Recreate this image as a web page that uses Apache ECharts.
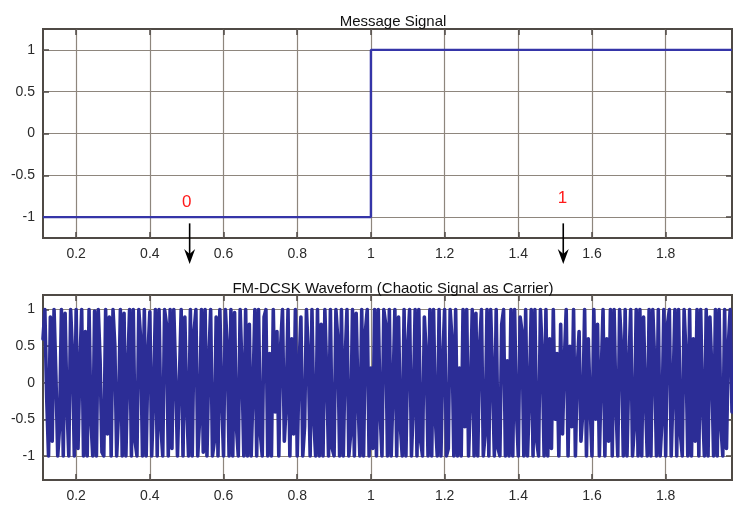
<!DOCTYPE html>
<html>
<head>
<meta charset="utf-8">
<script src="https://cdn.jsdelivr.net/npm/echarts@6/dist/echarts.min.js"></script>
<style>
  html, body { margin: 0; padding: 0; background: #fff; }
  #chart { width: 733px; height: 507px; }
</style>
</head>
<body>
<div id="chart"></div>
<script>
// Axis tick positions shared by both panels
const xTicks = [0.2, 0.4, 0.6, 0.8, 1, 1.2, 1.4, 1.6, 1.8];
const yTicks = [-1, -0.5, 0, 0.5, 1];

// Message bits: 0 (level -1) then 1 (level +1), switching at t = 1
const messageT = [0.11, 1.0, 1.0, 1.98];
const messageV = [-1, -1, 1, 1];

// FM-DCSK waveform samples, uniform time step starting at waveT0
const waveT0 = 0.11;
const waveDt = 0.005;
const waveV = [
  0.6, 1, -0.2, -1, 0.9, -0.8, 1, 0.1, -1, -0.6, 1, -1, 0.95, -0.3, -1, 1, 0.4, -1, 1, -0.9, 0.2, 1, -1, 0.7, -1,
  1, -0.5, -1, 0.98, -1, 1, 0.3, -0.95, -1, 1, -0.7, 0.9, -1, 1, 0.5, -1, -0.4, 1, -1, 0.95, -1, 0.2, 1, -1, 1,
  -0.8, -1, 1, 0.6, -1, 1, -1, 0.4, 0.97, -1, -0.2, 1, -1, 1, -0.6, -1, 1, 0.8, -1, 1, -0.9, 1, 0.1, -1, -0.98,
  1, -1, 0.9, -0.3, -1, 1, -1, 0.7, 1, -1, -0.5, 1, -0.95, 1, -1, 0.3, 1, -1, -0.8, 0.9, -1, 1, -0.2, -1, 1,
  0.5, -1, 1, -1, 0.96, -0.6, -1, 1, 0.2, -1, 1, -1, 0.8, -1, -0.1, 1, -1, 1, -0.7, -1, 0.9, 1, -1, 0.4, -1,
  1, -0.4, 0.7, -1, 0.5, 1, -0.8, -0.3, 1, -1, 0.6, -0.7, 1, -1, 0.2, 0.9, -1, -0.6, 1, 0.4, -1, 1, -0.5, -1, 1,
  -1, 0.8, -1, 1, 0.1, -1, 1, -0.9, -1, 1, 0.6, -1, 1, -1, 0.3, 1, -1, -0.7, 1, -1, 0.95, -0.2, -1, 1, -1,
  0.7, 1, -1, 0.2, -0.9, 1, -1, 1, -0.4, -1, 1, 0.8, -1, 1, -1, -0.1, 1, -1, 0.9, -0.6, -1, 1, -1, 0.5, 1,
  -1, -0.3, 1, -1, 1, -0.8, -1, 0.9, 0.4, -1, 1, -1, 1, -0.5, -1, 1, -1, 0.3, 1, -1, -0.9, 1, 0.6, -1, 1,
  -1, 0.2, -1, 1, -0.6, 1, -1, -0.2, 1, -1, 0.95, -1, 0.5, 1, -1, -0.7, 1, -1, 1, 0.1, -1, 1, -0.9, -1, 0.8,
  1, -1, 0.3, -1, 1, -1, 1, -0.4, -1, 0.9, 0.7, -1, 1, -1, -0.2, 1, -1, 1, -0.8, -1, 1, 0.4, -1, 1, -1,
  0.6, -0.9, 1, -0.5, 0.4, -1, 0.8, -0.7, 0.3, 1, -1, 0.5, -0.6, 1, -1, 0.2, 0.7, -0.8, -0.4, 1, -1, 0.6, -0.3, -1, 1,
  -0.5, 0.8, -1, 0.1, 1, -1, 0.6, -0.8, 1, -1, 1, -0.3, -1, 1, 0.5, -1, 1, -1, 0.2, 1, -1, -0.6, 1, -1, 1,
  -1, 0.9, -0.2, -1, 1, -1, 1, 0.3, -1, 1, -1, -0.5, 1, -1, 0.8, 1, -1, -0.1, 1, -1, 1, -0.7, -1, 1, 0.4,
  -1, 1, -1, 0.6, -0.8, 1, -1, 1, -0.3, -1, 1, -1, 0.9, 0.2, -1, 1, -1, 1, -0.6, -1, 1, -0.9, 0.5, 1, -0.4
];

// Bit annotations on the message panel
const bitText = ['0', '1'];
const bitTextX = [0.50, 1.52];
const bitTextY = [-0.82, -0.78];
const bitArrowX = [0.508, 1.522];
const bitArrowTop = -1.075;
const bitArrowTip = -1.56;

const FONT = '"Liberation Sans", Arial, Helvetica, sans-serif';
const GRID_COLOR = '#8e867d';
const AXIS_COLOR = '#4f4a45';
const LABEL_COLOR = '#2a2a2a';
const WAVE_COLOR = '#2c2d96';

const chart = echarts.init(document.getElementById('chart'), null, { renderer: 'canvas' });

const messageData = messageT.map((t, i) => [t, messageV[i]]);
const waveData = waveV.map((v, i) => [+(waveT0 + i * waveDt).toFixed(4), v]);

function xAxisFor(gridIndex, min, max) {
  return [
    {
      gridIndex, type: 'value', min, max, position: 'bottom',
      axisLine: { show: false, onZero: false },
      axisTick: { show: true, inside: true, length: 6, customValues: xTicks, lineStyle: { color: AXIS_COLOR, width: 1.5 } },
      axisLabel: { show: true, customValues: xTicks, margin: 9, color: LABEL_COLOR, fontSize: 14, fontFamily: FONT,
                   formatter: v => String(v) },
      splitLine: { show: true, lineStyle: { color: GRID_COLOR, width: 1.2 } }
    },
    {
      gridIndex, type: 'value', min, max, position: 'top',
      axisLine: { show: false, onZero: false },
      axisTick: { show: true, inside: true, length: 6, customValues: xTicks, lineStyle: { color: AXIS_COLOR, width: 1.5 } },
      axisLabel: { show: false },
      splitLine: { show: false }
    }
  ];
}

function yAxisFor(gridIndex, min, max) {
  return [
    {
      gridIndex, type: 'value', min, max, position: 'left',
      axisLine: { show: false, onZero: false },
      axisTick: { show: true, inside: true, length: 6, customValues: yTicks, lineStyle: { color: AXIS_COLOR, width: 1.5 } },
      axisLabel: { show: true, customValues: yTicks, margin: 8, color: LABEL_COLOR, fontSize: 14, fontFamily: FONT,
                   formatter: v => String(v) },
      splitLine: { show: true, lineStyle: { color: GRID_COLOR, width: 1.2 } }
    },
    {
      gridIndex, type: 'value', min, max, position: 'right',
      axisLine: { show: false, onZero: false },
      axisTick: { show: true, inside: true, length: 6, customValues: yTicks, lineStyle: { color: AXIS_COLOR, width: 1.5 } },
      axisLabel: { show: false },
      splitLine: { show: false }
    }
  ];
}

const option = {
  animation: false,
  backgroundColor: '#fff',
  title: [
    { text: 'Message Signal', left: 388, top: 9, textAlign: 'center',
      textStyle: { fontSize: 15, fontWeight: 'normal', color: '#111', fontFamily: FONT } },
    { text: 'FM-DCSK Waveform (Chaotic Signal as Carrier)', left: 388, top: 276, textAlign: 'center',
      textStyle: { fontSize: 15, fontWeight: 'normal', color: '#111', fontFamily: FONT } }
  ],
  grid: [
    { left: 43, right: 1, top: 29, bottom: 269, show: true, borderColor: AXIS_COLOR, borderWidth: 2, containLabel: false },
    { left: 43, right: 1, top: 295, bottom: 27, show: true, borderColor: AXIS_COLOR, borderWidth: 2, containLabel: false }
  ],
  xAxis: [...xAxisFor(0, 0.11, 1.98), ...xAxisFor(1, 0.11, 1.98)],
  yAxis: [...yAxisFor(0, -1.25, 1.25), ...yAxisFor(1, -1.33, 1.2)],
  series: [
    {
      name: 'Message Signal', type: 'line', xAxisIndex: 0, yAxisIndex: 0,
      data: messageData, showSymbol: false, symbol: 'none',
      lineStyle: { color: '#3535a8', width: 2.4 }
    },
    {
      name: 'FM-DCSK', type: 'line', xAxisIndex: 2, yAxisIndex: 2,
      data: waveData, showSymbol: false, symbol: 'none', clip: true,
      lineStyle: { color: WAVE_COLOR, width: 3.6, join: 'round', cap: 'round' }
    }
  ]
};

chart.setOption(option);

// Bit labels and downward arrows, placed through the message panel's coordinates
const graphics = [];
bitText.forEach((txt, i) => {
  const p = chart.convertToPixel({ gridIndex: 0 }, [bitTextX[i], bitTextY[i]]);
  graphics.push({
    type: 'text', x: p[0], y: p[1], z: 100,
    style: { text: txt, fill: '#ff1a1a', fontSize: 17, fontFamily: FONT, align: 'center', verticalAlign: 'middle' }
  });
  const top = chart.convertToPixel({ gridIndex: 0 }, [bitArrowX[i], bitArrowTop]);
  const tip = chart.convertToPixel({ gridIndex: 0 }, [bitArrowX[i], bitArrowTip]);
  graphics.push({
    type: 'line', z: 100,
    shape: { x1: top[0], y1: top[1], x2: tip[0], y2: tip[1] - 6 },
    style: { stroke: '#000', lineWidth: 1.6 }
  });
  graphics.push({
    type: 'polygon', z: 100,
    shape: { points: [[tip[0], tip[1]], [tip[0] - 5.5, tip[1] - 15], [tip[0], tip[1] - 10], [tip[0] + 5.5, tip[1] - 15]] },
    style: { fill: '#000' }
  });
});
chart.setOption({ graphic: graphics });
</script>
</body>
</html>
